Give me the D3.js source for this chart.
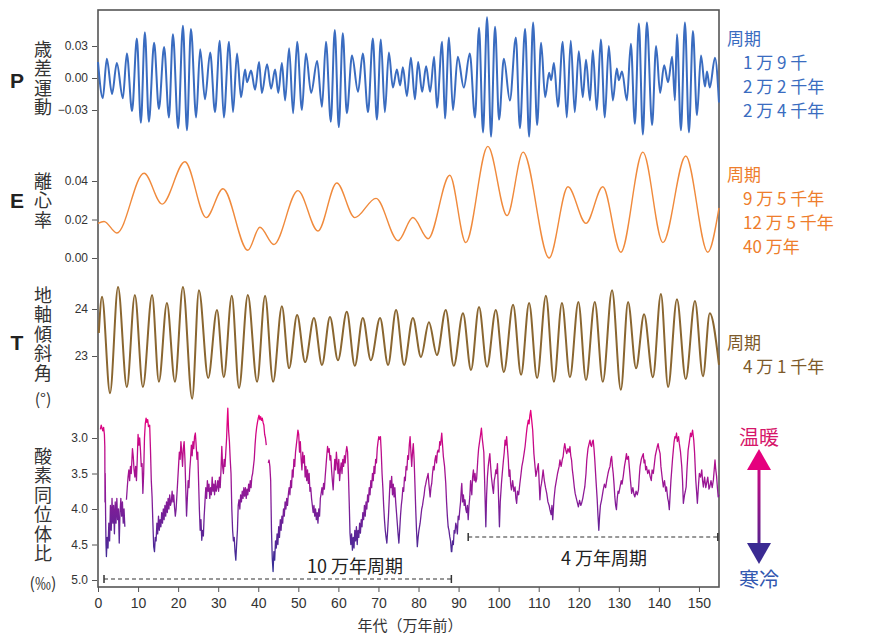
<!DOCTYPE html>
<html>
<head>
<meta charset="utf-8">
<script src="https://cdn.jsdelivr.net/npm/d3@7"></script>
<style>
  body { margin: 0; background: #fff; }
  text { font-family: "Noto Sans CJK JP", "Noto Sans", sans-serif; }
</style>
</head>
<body>
<div id="chart"></div>
<script>
// ---- data (time in 万年前) ----
// precession: extrema [t, value]
var precession = [[0,0.015],[1.2,-0.019],[2.2,0.018],[3.5,-0.015],[4.7,0.014],[6.2,-0.019],[7.2,0.023],[8.5,-0.031],[9.7,0.037],[10.7,-0.042],[11.7,0.043],[12.7,-0.041],[14.0,0.033],[15.2,-0.029],[16.5,0.029],[17.7,-0.037],[18.7,0.041],[20.0,-0.047],[21.2,0.049],[22.2,-0.049],[23.2,0.046],[24.5,-0.037],[25.5,0.027],[26.7,-0.020],[28.0,0.024],[29.2,-0.032],[30.4,0.035],[31.4,-0.037],[32.7,0.034],[33.7,-0.032],[34.7,0.023],[35.7,-0.018],[36.7,0.008],[37.2,-0.004],[38.2,0.007],[39.2,-0.011],[40.2,0.015],[40.9,-0.014],[42.2,0.013],[43.2,-0.010],[44.2,0.008],[45.0,-0.014],[45.9,0.014],[46.7,-0.021],[47.7,0.028],[48.7,-0.033],[49.7,0.034],[50.9,-0.030],[51.9,0.023],[53.2,-0.014],[54.7,0.016],[55.9,-0.027],[56.9,0.034],[58.1,-0.041],[59.1,0.045],[60.1,-0.046],[61.1,0.042],[62.1,-0.033],[63.4,0.021],[64.9,-0.013],[66.1,0.023],[67.4,-0.032],[68.6,0.037],[69.6,-0.039],[70.6,0.036],[71.6,-0.032],[72.6,0.024],[73.6,-0.009],[74.6,0.008],[75.4,-0.007],[76.1,0.010],[77.1,-0.017],[78.1,0.019],[79.1,-0.020],[79.9,0.015],[80.9,-0.013],[81.9,0.011],[82.9,-0.013],[83.9,0.020],[84.6,-0.028],[85.9,0.034],[86.6,-0.038],[87.6,0.038],[88.6,-0.030],[89.8,0.020],[91.3,-0.009],[92.8,0.023],[94.1,-0.037],[95.1,0.047],[96.1,-0.051],[97.1,0.057],[98.1,-0.055],[99.1,0.048],[100.1,-0.039],[101.3,0.018],[102.8,-0.021],[104.3,0.038],[105.3,-0.047],[106.6,0.046],[107.6,-0.055],[108.6,0.052],[109.6,-0.044],[110.6,0.033],[111.6,-0.018],[112.6,0.005],[113.1,-0.002],[113.8,0.014],[114.8,-0.027],[116.0,0.034],[117.0,-0.037],[118.0,0.035],[119.0,-0.032],[120.0,0.025],[121.0,-0.018],[121.8,0.017],[122.8,-0.021],[123.5,0.026],[124.5,-0.030],[125.5,0.036],[126.5,-0.037],[127.5,0.030],[128.5,-0.021],[129.5,0.009],[130.0,-0.002],[130.8,0.006],[132.0,-0.021],[133.0,0.032],[134.0,-0.043],[135.0,0.051],[136.0,-0.053],[137.0,0.052],[138.3,-0.044],[139.3,0.030],[140.3,-0.014],[141.3,0.012],[142.3,-0.004],[143.3,0.020],[144.0,-0.021],[144.5,0.041],[145.5,-0.049],[146.5,0.052],[147.5,-0.051],[148.5,0.044],[149.5,-0.035],[150.5,0.021],[151.5,-0.008],[152.0,0.006],[152.7,-0.009],[154.0,0.019],[155.0,-0.023]];

// eccentricity: extrema [t, value]
var eccentricity = [[0,0.018],[1.5,0.019],[4.7,0.013],[11.5,0.044],[16.0,0.028],[21.7,0.050],[27.0,0.021],[31.2,0.036],[37.4,0.004],[40.4,0.016],[43.9,0.007],[49.9,0.035],[54.9,0.014],[59.6,0.039],[64.1,0.021],[69.4,0.031],[74.9,0.009],[78.6,0.021],[82.4,0.010],[87.8,0.043],[91.8,0.008],[97.3,0.058],[102.1,0.022],[106.1,0.055],[112.6,0.000],[117.3,0.037],[121.8,0.018],[126.0,0.037],[130.5,0.003],[136.0,0.055],[141.0,0.008],[146.7,0.053],[152.2,0.003],[155.0,0.026]];

// obliquity (degrees): extrema [t, value]
var obliquity = [[0.2,23.49],[1.0,24.26],[3.0,22.21],[5.0,24.47],[7.2,22.34],[9.2,24.30],[11.2,22.34],[13.5,24.30],[15.2,22.45],[17.2,24.13],[19.2,22.45],[21.2,24.47],[23.5,22.09],[25.2,24.40],[27.5,22.53],[29.7,23.98],[31.4,22.55],[33.4,24.28],[35.2,22.32],[37.4,24.30],[39.7,22.45],[41.7,24.28],[43.7,22.45],[45.9,24.06],[47.7,22.74],[49.7,23.87],[51.7,22.87],[53.9,23.81],[55.9,22.81],[57.9,23.83],[59.9,22.91],[62.1,23.94],[64.1,22.79],[66.1,23.81],[68.1,22.91],[70.4,23.81],[72.4,22.81],[74.4,23.98],[76.4,22.81],[78.6,23.81],[80.6,22.98],[82.6,23.72],[84.6,23.02],[86.8,23.98],[88.8,22.79],[91.1,23.91],[93.1,22.70],[95.1,24.04],[97.1,22.77],[99.3,23.98],[101.3,22.66],[103.6,24.09],[105.6,22.60],[107.6,24.13],[109.6,22.53],[111.8,24.28],[113.8,22.45],[115.8,24.13],[117.8,22.55],[119.9,24.15],[121.8,22.49],[124.0,24.15],[126.0,22.45],[128.3,24.40],[130.5,22.28],[132.3,24.15],[134.3,22.74],[136.3,23.89],[138.5,22.55],[140.5,24.32],[142.3,22.34],[144.5,24.21],[146.7,22.51],[149.0,24.17],[151.0,22.57],[152.7,23.91],[155.0,22.81]];

// oxygen isotope ratio (permil) [t, value]; null = gap in record
var oxygen = [[0.6,2.88],[0.8,2.82],[1.0,2.86],[1.2,2.9],[1.4,2.85],[1.6,2.95],[1.7,3.12],[1.75,3.9],[1.8,3.5],[1.9,4.1],[2.0,4.5],[2.1,4.67],[2.3,4.4],[2.5,4.55],[2.7,4.2],[2.9,4.45],[3.1,3.95],[3.3,4.3],[3.5,3.85],[3.7,4.2],[3.9,3.95],[4.1,4.35],[4.3,3.9],[4.5,4.2],[4.7,3.85],[4.9,4.15],[5.1,4.0],[5.3,4.48],[5.5,4.05],[5.7,3.85],[5.9,4.1],[6.1,3.9],[6.3,4.2],[6.5,4.0],[6.7,4.25],[6.9,null],
  [7.1,3.87],[7.3,3.7],[7.5,3.55],[7.7,3.45],[7.9,3.6],[8.1,3.4],[8.3,3.5],[8.6,3.15],[8.8,3.26],[9.0,3.45],[9.2,3.55],[9.4,3.4],[9.6,3.6],[9.8,3.3],[10.0,2.95],[10.2,3.1],[10.4,3.0],[10.6,3.17],[10.8,3.4],[11.0,3.36],[11.2,3.78],[11.4,3.5],[11.6,3.0],[11.8,2.8],[12.0,2.72],[12.2,2.78],[12.4,2.74],[12.6,2.84],[12.9,2.82],[13.1,3.17],[13.3,3.6],[13.5,3.83],[13.7,4.2],[13.9,4.53],[14.1,4.6],[14.3,4.4],
  [14.5,4.45],[14.7,4.2],[14.9,4.35],[15.1,4.1],[15.3,4.3],[15.5,4.15],[15.7,4.25],[15.9,4.05],[16.1,4.2],[16.3,4.0],[16.5,4.15],[16.7,3.95],[16.9,4.1],[17.1,3.9],[17.3,4.05],[17.5,3.85],[17.7,4.0],[17.9,3.8],[18.1,3.95],[18.3,3.9],[18.5,3.75],[18.7,3.9],[18.9,3.8],[19.1,3.97],[19.3,4.1],[19.5,4.0],[19.7,3.8],
  [19.9,3.6],[20.1,3.4],[20.3,3.2],[20.5,3.3],[20.7,3.05],[20.9,3.2],[21.1,3.4],[21.3,3.15],[21.5,3.05],[21.7,3.3],[21.9,3.7],[22.1,4.1],[22.3,3.85],[22.5,3.6],[22.7,3.7],[22.9,3.45],[23.1,3.3],[23.3,3.1],[23.5,3.25],[23.7,3.05],[23.9,3.15],[24.1,2.98],[24.3,2.93],[24.5,3.1],[24.7,3.3],[24.9,3.2],[25.1,3.6],[25.3,4.0],[25.5,4.3],[25.7,4.15],[25.9,4.44],[26.1,4.3],[26.3,4.38],[26.5,4.1],
  [26.7,3.9],[26.9,3.7],[27.1,3.85],[27.3,3.6],[27.5,3.75],[27.7,3.65],[27.9,3.85],[28.1,3.7],[28.3,3.8],[28.5,3.55],[28.7,3.75],[28.9,3.65],[29.1,3.8],[29.3,3.6],[29.5,3.75],[29.7,3.7],[29.9,3.6],[30.1,3.75],[30.3,3.55],[30.5,3.7],[30.7,3.45],[30.9,3.12],[31.1,3.4],[31.3,3.5],[31.5,3.3],[31.7,3.4],[31.9,3.2],[32.1,3.0],[32.3,2.7],[32.4,2.58],[32.6,2.9],[32.8,3.05],
  [33.0,3.3],[33.2,3.5],[33.4,4.0],[33.6,4.3],[33.8,4.45],[34.0,4.4],[34.2,4.6],[34.4,4.72],[34.6,4.5],[34.8,4.3],[35.0,3.95],[35.2,3.87],[35.4,4.0],[35.6,3.8],[35.8,3.9],[36.0,3.75],[36.2,3.85],[36.4,3.7],[36.6,3.82],[36.8,3.7],[37.0,3.85],[37.2,3.72],[37.4,3.8],[37.6,3.65],[37.8,3.75],[38.0,3.6],[38.2,3.7],[38.4,3.55],[38.6,3.5],[38.8,3.4],[39.0,3.3],
  [39.2,3.1],[39.4,2.95],[39.6,2.85],[39.8,2.78],[40.0,2.72],[40.2,2.68],[40.4,2.74],[40.6,2.7],[40.8,2.75],[41.0,2.72],[41.2,2.78],[41.4,2.82],[41.6,2.95],[41.8,3.0],[42.0,3.1],[42.2,null],[42.5,3.35],[42.7,3.31],[42.9,3.4],[43.1,3.6],[43.3,4.3],[43.5,4.7],[43.7,4.88],[43.9,4.6],[44.1,4.72],[44.3,4.45],[44.5,4.55],
  [44.7,4.35],[44.9,4.5],[45.1,4.25],[45.3,4.4],[45.5,4.15],[45.7,4.3],[45.9,4.1],[46.1,4.2],[46.3,4.0],[46.5,4.1],[46.7,3.9],[46.9,4.0],[47.1,3.85],[47.3,3.95],[47.5,3.8],[47.7,3.7],[47.9,3.8],[48.1,3.6],[48.3,3.7],[48.5,3.45],[48.7,3.55],[48.9,3.3],[49.1,3.4],[49.3,3.2],[49.5,3.1],[49.7,3.0],[49.9,2.89],[50.1,2.95],
  [50.3,3.2],[50.5,3.05],[50.7,3.3],[50.9,3.45],[51.1,3.2],[51.3,3.35],[51.5,3.25],[51.7,3.55],[51.9,3.4],[52.1,3.6],[52.3,3.45],[52.5,3.64],[52.7,3.5],[52.9,3.75],[53.1,3.7],[53.3,3.85],[53.5,3.95],[53.7,4.05],[53.9,3.95],[54.1,4.1],[54.3,4.0],[54.5,4.15],[54.7,4.05],[54.9,4.2],[55.1,4.0],[55.3,4.1],[55.5,3.85],[55.7,3.78],[55.9,3.7],[56.1,3.8],[56.3,3.64],[56.5,3.72],[56.7,3.55],[56.9,3.4],[57.1,3.25],[57.3,3.12],[57.5,3.2],[57.7,3.15],[57.9,3.31],[58.1,3.25],[58.3,3.45],[58.5,3.6],[58.7,3.73],[58.9,3.5],[59.1,3.3],[59.3,3.45],[59.5,3.2],[59.7,3.35],[59.9,3.5],[60.1,3.3],[60.3,3.6],[60.5,3.45],[60.7,3.35],[60.9,3.5],[61.1,3.3],[61.3,3.4],[61.5,3.25],[61.7,3.35],[61.9,3.2],[62.1,3.12],[62.3,3.2],[62.5,3.5],
  [62.7,3.9],[62.9,4.34],[63.1,4.5],[63.3,4.35],[63.5,4.58],[63.7,4.4],[63.9,4.55],[64.1,4.3],[64.3,4.45],[64.5,4.25],[64.7,4.5],[64.9,4.3],[65.1,4.4],[65.3,4.2],[65.5,4.34],[65.7,4.15],[65.9,4.25],[66.1,4.05],[66.3,4.15],[66.5,3.95],[66.7,4.1],[66.9,3.9],[67.1,4.0],[67.3,3.8],[67.5,3.9],[67.7,3.7],[67.9,3.8],[68.1,3.6],[68.3,3.7],[68.5,3.5],[68.7,3.6],[68.9,3.4],[69.1,3.5],[69.3,3.3],[69.5,3.35],[69.7,3.15],[69.9,3.05],[70.1,2.98],[70.3,3.02],[70.5,2.98],[70.7,3.2],[70.9,3.5],[71.1,3.7],[71.3,3.95],[71.5,4.15],[71.7,4.3],[71.9,4.4],[72.1,4.48],[72.3,4.3],[72.5,4.1],
  [72.7,3.85],[72.9,3.6],[73.1,3.7],[73.3,3.54],[73.5,3.8],[73.7,3.65],[73.9,3.83],[74.1,3.7],[74.3,3.9],[74.5,4.05],[74.7,4.2],[74.9,4.35],[75.1,4.48],[75.3,4.3],[75.5,4.1],[75.7,3.95],[75.9,3.85],[76.1,3.7],[76.3,3.75],[76.5,3.55],[76.7,3.6],[76.9,3.4],[77.1,3.45],[77.3,3.25],[77.5,3.3],[77.7,3.1],
  [77.9,2.98],[78.1,3.2],[78.3,3.4],[78.5,3.2],[78.7,3.08],[78.9,3.3],[79.1,3.64],[79.3,4.0],[79.5,4.3],[79.7,4.53],[79.9,4.4],[80.1,4.3],[80.4,4.2],[80.6,4.1],[80.8,4.0],[81.0,3.95],[81.2,3.87],[81.4,3.8],[81.6,3.7],[81.8,3.65],[82.0,3.59],[82.2,3.55],[82.4,3.5],[82.6,3.65],[82.9,3.83],[83.1,3.7],[83.3,3.64],[83.5,3.5],[83.7,3.4],[83.9,3.45],[84.1,3.31],[84.3,3.25],[84.5,3.35],[84.7,3.2],[84.9,3.17],[85.1,3.2],[85.3,3.05],[85.5,3.1],[85.8,2.93],[86.0,3.1],[86.2,3.26],[86.5,3.4],[86.8,3.64],[87.0,3.9],[87.2,4.1],[87.4,4.25],[87.6,4.3],[87.8,4.39],[88.0,4.45],[88.2,4.6],
  [88.3,4.6],[88.5,4.45],[88.7,4.5],[88.9,4.3],[89.1,4.34],[89.3,4.2],[89.5,4.25],[89.7,4.35],[89.9,4.1],[90.1,4.15],[90.3,4.01],[90.5,3.9],[90.7,3.7],[90.8,3.64],[91.0,3.9],[91.2,3.8],[91.4,3.95],[91.6,3.87],[91.8,4.0],[92.0,4.05],[92.2,3.95],[92.4,4.15],[92.6,3.95],[92.8,3.83],
  [93.0,3.6],[93.3,3.8],[93.5,3.55],[93.7,3.45],[93.9,3.6],[94.1,3.5],[94.3,3.62],[94.5,3.58],[94.8,3.3],[95.0,3.15],[95.3,3.03],[95.5,2.95],[95.7,2.86],[95.9,3.0],[96.1,3.1],[96.3,3.2],[96.5,3.6],[96.8,4.25],[97.0,3.8],[97.2,3.55],[97.4,3.4],[97.6,3.3],[97.8,3.22],[98.0,3.4],[98.2,3.55],[98.5,3.7],[98.7,3.78],[98.9,3.6],[99.1,3.54],[99.3,3.45],[99.5,3.5],[99.7,3.36],[99.9,3.7],[100.2,4.25],[100.4,3.9],[100.7,3.64],[100.9,3.5],[101.2,3.31],[101.4,3.2],[101.6,3.03],[101.8,3.1],[102.0,2.98],[102.2,3.15],[102.4,3.3],[102.6,3.54],[102.8,3.45],[103.0,3.65],[103.2,3.73],[103.5,3.6],[103.8,3.75],[104.1,3.69],[104.3,3.85],[104.5,3.92],[104.7,3.75],[105.0,3.8],[105.3,3.64],[105.6,3.5],[105.8,3.4],[106.1,3.31],[106.4,3.2],[106.6,3.12],[106.9,2.95],[107.1,2.85],[107.4,2.75],[107.6,2.8],[107.8,2.68],[108.0,2.61],[108.2,2.72],[108.5,2.89],[108.8,3.22],[109.0,3.35],[109.3,3.54],[109.6,3.45],[109.9,3.36],[110.1,3.6],[110.3,3.87],[110.5,3.7],[110.7,3.64],[110.9,3.55],[111.1,3.45],[111.4,3.6],[111.7,3.7],[112.0,3.78],[112.3,3.9],[112.6,3.95],[112.8,4.01],[113.1,4.08],[113.3,3.95],[113.5,4.15],[113.8,3.87],[114.1,3.7],[114.4,3.6],[114.7,3.5],[114.9,3.45],[115.1,3.4],[115.3,3.31],[115.6,3.4],[115.9,3.3],[116.1,3.26],[116.3,3.15],[116.5,3.08],[116.8,3.18],[117.0,3.22],[117.3,3.15],[117.6,3.2],[117.8,3.12],[118.0,3.25],[118.2,3.31],[118.4,3.45],[118.6,3.54],[118.9,3.7],[119.1,3.78],[119.3,3.83],[119.6,3.9],[119.9,3.97],[120.2,3.88],[120.5,3.95],[120.7,3.92],[121.0,3.85],[121.3,3.75],[121.5,3.69],[121.8,3.5],[122.0,3.31],[122.3,3.15],[122.5,3.1],[122.8,3.03],[123.0,3.1],[123.2,3.12],[123.4,3.05],[123.6,3.03],[123.8,3.15],[124.0,3.31],[124.3,3.6],[124.6,3.87],[124.8,4.1],[125.0,4.3],[125.2,4.1],[125.4,3.95],[125.7,3.87],[125.9,3.8],[126.1,3.73],[126.4,3.65],[126.7,3.7],[127.0,3.59],[127.3,3.5],[127.5,3.45],[127.8,3.4],[128.0,3.3],[128.2,3.26],[128.4,3.4],[128.6,3.5],[128.8,3.65],[129.0,3.83],[129.2,3.95],[129.4,4.01],[129.6,3.85],[129.8,3.75],[130.0,3.78],[130.3,3.69],[130.6,3.6],[130.8,3.65],[131.1,3.54],[131.4,3.4],[131.7,3.3],[131.9,3.22],[132.1,3.3],[132.4,3.26],[132.6,3.4],[132.9,3.6],[133.2,3.78],[133.5,3.7],[133.8,3.8],[134.0,3.83],[134.3,3.75],[134.6,3.8],[134.9,3.73],[135.1,3.55],[135.3,3.4],[135.6,3.3],[135.9,3.25],[136.1,3.22],[136.3,3.35],[136.5,3.31],[136.7,3.45],[136.9,3.4],[137.2,3.5],[137.5,3.45],[137.8,3.54],[138.1,3.6],[138.3,3.45],[138.6,3.5],[138.9,3.35],[139.1,3.25],[139.4,3.17],[139.6,3.12],[139.8,3.08],[140.0,3.15],[140.3,3.22],[140.5,3.4],[140.8,3.55],[141.1,3.69],[141.4,3.6],[141.7,3.75],[141.9,3.69],[142.2,3.85],[142.4,3.9],[142.6,4.01],[142.8,3.8],[143.0,3.6],[143.2,3.45],[143.4,3.3],[143.6,3.17],[143.8,3.05],[144.0,2.98],[144.2,3.0],[144.4,2.93],[144.6,3.05],[144.9,2.98],[145.1,3.08],[145.4,3.2],[145.7,3.4],[145.9,3.6],[146.1,3.92],[146.4,3.8],[146.6,3.75],[146.8,3.69],[147.0,3.45],[147.3,3.17],[147.6,3.05],[147.9,2.93],[148.1,2.98],[148.4,2.89],[148.7,3.03],[148.9,3.2],[149.2,3.59],[149.4,3.75],[149.6,3.92],[149.9,3.65],[150.1,3.5],[150.4,3.55],[150.7,3.45],[150.9,3.6],[151.1,3.69],[151.4,3.55],[151.7,3.7],[151.9,3.64],[152.2,3.55],[152.5,3.72],[152.7,3.69],[153.0,3.6],[153.3,3.7],[153.6,3.59],[153.8,3.45],[154.0,3.31],[154.2,3.45],[154.4,3.54],[154.6,3.7],[154.8,3.83],[155.0,3.8]];

// axis ticks
var xTicks = [0,10,20,30,40,50,60,70,80,90,100,110,120,130,140,150];
var pTicks = [-0.03, 0, 0.03];
var eTicks = [0, 0.02, 0.04];
var tTicks = [23, 24];
var oTicks = [3.0, 3.5, 4.0, 4.5, 5.0];

// dominant-cycle brackets [start, end]
var cycle100k = [1.5, 88.2];
var cycle40k = [92.4, 154.7];

// text labels
var pPeriods = ['1 万 9 千', '2 万 2 千年', '2 万 4 千年'];
var ePeriods = ['9 万 5 千年', '12 万 5 千年', '40 万年'];
var tPeriods = ['4 万 1 千年'];

var blue = '#3a6cc0', orange = '#f08a3c', brown = '#8a6630';

var svg = d3.select('#chart')
  .append('svg')
    .attr('width', 871)
    .attr('height', 636);

var x = d3.scaleLinear().domain([0, 155]).range([98, 719]);
var yP = d3.scaleLinear().domain([-0.03, 0.03]).range([110, 46]);
var yE = d3.scaleLinear().domain([0, 0.04]).range([258, 181]);
var yT = d3.scaleLinear().domain([23, 24]).range([356, 309]);
var yO = d3.scaleLinear().domain([3.0, 5.0]).range([438, 580]);

// gradient for the isotope curve (warm = magenta, cold = blue)
var defs = svg.append('defs');
var grad = defs.append('linearGradient')
    .attr('id', 'oGrad')
    .attr('gradientUnits', 'userSpaceOnUse')
    .attr('x1', 0).attr('x2', 0)
    .attr('y1', yO(2.7)).attr('y2', yO(4.9));
grad.append('stop').attr('offset', 0).attr('stop-color', '#e5007e');
grad.append('stop').attr('offset', 0.5).attr('stop-color', '#8c1a98');
grad.append('stop').attr('offset', 1).attr('stop-color', '#2f2f96');

var arrowGrad = defs.append('linearGradient')
    .attr('id', 'aGrad')
    .attr('gradientUnits', 'userSpaceOnUse')
    .attr('x1', 0).attr('x2', 0)
    .attr('y1', 450).attr('y2', 563);
arrowGrad.append('stop').attr('offset', 0).attr('stop-color', '#e5007e');
arrowGrad.append('stop').attr('offset', 1).attr('stop-color', '#3a2a92');

// frame
svg.append('rect')
  .attr('x', 98).attr('y', 10)
  .attr('width', 621).attr('height', 577)
  .attr('fill', 'none')
  .attr('stroke', '#555')
  .attr('stroke-width', 1.6);

// curves
function drawCurve(data, y, color, width, curve) {
  var line = d3.line()
    .defined(function(d) { return d[1] !== null; })
    .x(function(d) { return x(d[0]); })
    .y(function(d) { return y(d[1]); })
    .curve(curve);
  svg.append('path')
    .datum(data)
    .attr('d', line)
    .attr('fill', 'none')
    .attr('stroke', color)
    .attr('stroke-width', width)
    .attr('stroke-linejoin', 'round');
}
drawCurve(precession, yP, blue, 2, d3.curveMonotoneX);
drawCurve(eccentricity, yE, orange, 1.4, d3.curveMonotoneX);
drawCurve(obliquity, yT, brown, 2, d3.curveMonotoneX);
drawCurve(oxygen, yO, 'url(#oGrad)', 1.3, d3.curveLinear);

// y axes
function drawYAxis(y, ticks, fmt) {
  var g = svg.append('g')
    .attr('transform', 'translate(97,0)')
    .call(d3.axisLeft(y).tickValues(ticks).tickSize(5).tickPadding(4).tickFormat(fmt));
  g.select('.domain').remove();
  g.selectAll('line').attr('stroke', '#555');
  g.selectAll('text')
    .attr('fill', '#333')
    .style('font-family', '"Liberation Sans", Arial, sans-serif')
    .style('font-size', '12px');
}
drawYAxis(yP, pTicks, d3.format('.2f'));
drawYAxis(yE, eTicks, d3.format('.2f'));
drawYAxis(yT, tTicks, d3.format('d'));
drawYAxis(yO, oTicks, d3.format('.1f'));

// x axis
var xg = svg.append('g')
  .attr('transform', 'translate(0,587)')
  .call(d3.axisBottom(x).tickValues(xTicks).tickSize(5).tickPadding(6));
xg.select('.domain').remove();
xg.selectAll('line').attr('stroke', '#555');
xg.selectAll('text')
  .attr('fill', '#333')
  .style('font-family', '"Liberation Sans", Arial, sans-serif')
  .style('font-size', '14px');

svg.append('text')
  .attr('x', 410).attr('y', 624)
  .attr('text-anchor', 'middle')
  .attr('dominant-baseline', 'central')
  .attr('fill', '#333')
  .style('font-size', '15px')
  .text('年代（万年前）');

// dashed cycle brackets
function bracket(span, yy) {
  svg.append('line')
    .attr('x1', x(span[0])).attr('x2', x(span[1]))
    .attr('y1', yy).attr('y2', yy)
    .attr('stroke', '#333').attr('stroke-width', 1.2)
    .attr('stroke-dasharray', '4,3');
  span.forEach(function(t) {
    svg.append('line')
      .attr('x1', x(t)).attr('x2', x(t))
      .attr('y1', yy - 4).attr('y2', yy + 4)
      .attr('stroke', '#333').attr('stroke-width', 1.5);
  });
}
bracket(cycle100k, 579);
bracket(cycle40k, 537);
svg.append('text')
  .attr('x', 355).attr('y', 573)
  .attr('text-anchor', 'middle')
  .attr('fill', '#222')
  .style('font-size', '18px')
  .text('10 万年周期');
svg.append('text')
  .attr('x', 604).attr('y', 565)
  .attr('text-anchor', 'middle')
  .attr('fill', '#222')
  .style('font-size', '18px')
  .text('4 万年周期');

// left labels
function bigLetter(ch, yy) {
  svg.append('text')
    .attr('x', 17).attr('y', yy)
    .attr('text-anchor', 'middle')
    .attr('dominant-baseline', 'central')
    .attr('fill', '#222')
    .style('font-family', '"Liberation Sans", Arial, sans-serif')
    .style('font-weight', 'bold')
    .style('font-size', '21px')
    .text(ch);
}
bigLetter('P', 80);
bigLetter('E', 200);
bigLetter('T', 342);

// vertical label (top-to-bottom), optional horizontal unit underneath
function vertical(str, yTop, unit, unitY) {
  svg.append('text')
    .attr('x', 43).attr('y', yTop)
    .attr('writing-mode', 'vertical-rl')
    .attr('fill', '#333')
    .style('font-size', '18px')
    .style('letter-spacing', '1.5px')
    .text(str);
  if (unit) {
    svg.append('text')
      .attr('x', 43).attr('y', unitY)
      .attr('text-anchor', 'middle')
      .attr('dominant-baseline', 'central')
      .attr('fill', '#333')
      .style('font-size', '16px')
      .text(unit);
  }
}
vertical('歳差運動', 40);
vertical('離心率', 172);
vertical('地軸傾斜角', 286, '(°)', 398);
vertical('酸素同位体比', 447, '(‰)', 582);

// right labels
function periods(lines, y0, color) {
  var t = svg.append('text')
    .attr('dominant-baseline', 'central')
    .attr('fill', color)
    .style('font-size', '17px');
  t.append('tspan').attr('x', 727).attr('y', y0).text('周期');
  lines.forEach(function(s, i) {
    t.append('tspan')
      .attr('x', 743).attr('y', y0 + 24 * (i + 1))
      .text(s);
  });
}
periods(pPeriods, 37, blue);
periods(ePeriods, 173, '#ee7d2c');
periods(tPeriods, 341, '#7d5a2a');

// warm / cold arrow
svg.append('line')
  .attr('x1', 759).attr('x2', 759)
  .attr('y1', 466).attr('y2', 547)
  .attr('stroke', 'url(#aGrad)')
  .attr('stroke-width', 3);
svg.append('path')
  .attr('d', 'M747,470 L771,470 L759,449 Z')
  .attr('fill', '#e5007e');
svg.append('path')
  .attr('d', 'M747,543 L771,543 L759,564 Z')
  .attr('fill', '#3a2a92');
svg.append('text')
  .attr('x', 759).attr('y', 436)
  .attr('text-anchor', 'middle')
  .attr('dominant-baseline', 'central')
  .attr('fill', '#d6166a')
  .style('font-size', '20px')
  .text('温暖');
svg.append('text')
  .attr('x', 759).attr('y', 578)
  .attr('text-anchor', 'middle')
  .attr('dominant-baseline', 'central')
  .attr('fill', '#3157b0')
  .style('font-size', '20px')
  .text('寒冷');
</script>
</body>
</html>
